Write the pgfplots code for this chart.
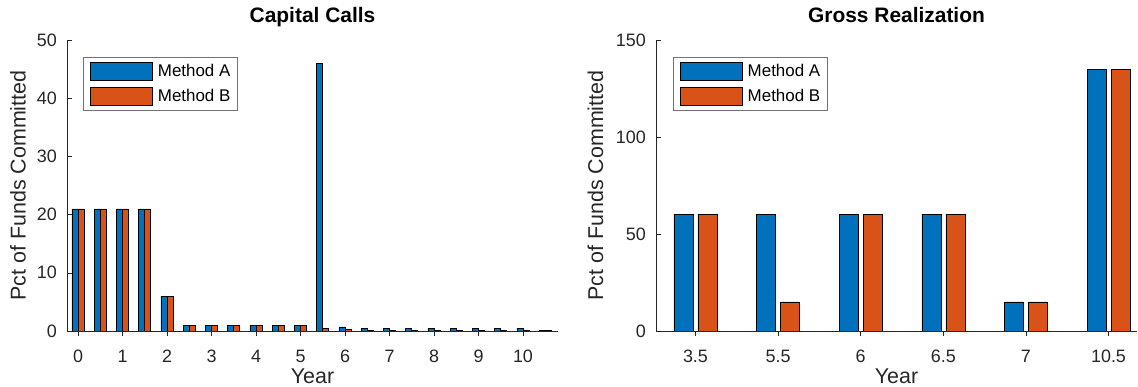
\documentclass[border=0pt]{standalone}
\usepackage{fontspec}
\setmainfont{Liberation Sans}
\usepackage{pgfplots}
\pgfplotsset{compat=1.18}
\definecolor{mA}{RGB}{0,114,189}
\definecolor{mB}{RGB}{217,83,25}
\definecolor{axc}{RGB}{38,38,38}
\pgfplotsset{
  common/.style={
    scale only axis, height=291bp,
    axis lines*=left,
    axis line style={-, draw=axc, line width=0.6bp},
    tick align=inside, major tick length=5bp,
    tick style={draw=axc, line width=0.6bp},
    xtick pos=bottom, ytick pos=left,
    /pgf/number format/assume math mode=true,
    ticklabel style={font=\fontsize{18}{20}\selectfont, text=axc},
    xticklabel style={anchor=base, yshift=-26bp},
    yticklabel style={anchor=east, inner xsep=0pt, xshift=-10bp},
    xlabel style={at={(axis description cs:0.5,0)}, anchor=base, yshift=-52.5bp, font=\fontsize{21.5}{24}\selectfont, text=axc},
    title style={at={(axis description cs:0.5,1)}, anchor=base, yshift=12bp, font=\bfseries\fontsize{21}{24}\selectfont, text=black},
    ymin=0, ybar,
    legend style={anchor=north west, draw=black!55, line width=0.6bp,
      inner xsep=7bp, inner ysep=5bp, row sep=6bp, column sep=5bp,
      nodes={inner sep=0pt, font=\fontsize{17}{20}\selectfont, text=black},
      cells={anchor=west}},
  },
  barA/.style={fill=mA, draw=black, line width=0.5bp,
    legend image code/.code={\draw[fill=mA, draw=black, line width=0.6bp] (0bp,-9bp) rectangle (62bp,9bp);}},
  barB/.style={fill=mB, draw=black, line width=0.5bp,
    legend image code/.code={\draw[fill=mB, draw=black, line width=0.6bp] (0bp,-9bp) rectangle (62bp,9bp);}},
}
\begin{document}
\begin{tikzpicture}
\useasboundingbox (0,0) rectangle (1138bp,387bp);
\begin{axis}[common,
  at={(67bp,56bp)}, anchor=south west, width=491bp,
  xmin=-0.247, xmax=10.787, ymax=50,
  xtick={0,1,...,10}, ytick={0,10,...,50},
  bar width=6bp,
  title={Capital Calls}, xlabel={Year},
  ylabel={Pct of Funds Committed},
  ylabel style={at={(axis description cs:-0.0843,0.5)}, anchor=base, rotate=0, font=\fontsize{21.5}{24}\selectfont, text=axc},
  legend style={at={(axis description cs:0.0326,0.9416)}},
]
\addplot[barA, bar shift=-3bp] coordinates {
 (0,21) (0.5,21) (1,21) (1.5,21) (2,6) (2.5,1) (3,1) (3.5,1) (4,1) (4.5,1) (5,1)
 (5.5,46) (6,0.7) (6.5,0.5) (7,0.5) (7.5,0.5) (8,0.5) (8.5,0.5) (9,0.5) (9.5,0.5) (10,0.5) (10.5,0.15)};
\addlegendentry{Method A}
\addplot[barB, bar shift=3bp] coordinates {
 (0,21) (0.5,21) (1,21) (1.5,21) (2,6) (2.5,1) (3,1) (3.5,1) (4,1) (4.5,1) (5,1)
 (5.5,0.5) (6,0.3) (6.5,0.15) (7,0.15) (7.5,0.1) (8,0.1) (8.5,0.1) (9,0.1) (9.5,0.1) (10,0.1) (10.5,0.1)};
\addlegendentry{Method B}
\end{axis}
\begin{axis}[common,
  at={(656bp,56bp)}, anchor=south west, width=481bp,
  xmin=-0.478, xmax=5.345, ymax=150,
  xtick={0,...,5}, xticklabels={3.5,5.5,6,6.5,7,10.5}, ytick={0,50,100,150},
  bar width=19bp,
  title={Gross Realization}, xlabel={Year},
  ylabel={Pct of Funds Committed},
  ylabel style={at={(axis description cs:-0.110,0.5)}, anchor=base, rotate=0, font=\fontsize{21.5}{24}\selectfont, text=axc},
  legend style={at={(axis description cs:0.035,0.9416)}},
]
\addplot[barA, bar shift=-12bp] coordinates {(0,60) (1,60) (2,60) (3,60) (4,15) (5,135)};
\addlegendentry{Method A}
\addplot[barB, bar shift=12bp] coordinates {(0,60) (1,15) (2,60) (3,60) (4,15) (5,135)};
\addlegendentry{Method B}
\end{axis}
\end{tikzpicture}
\end{document}
